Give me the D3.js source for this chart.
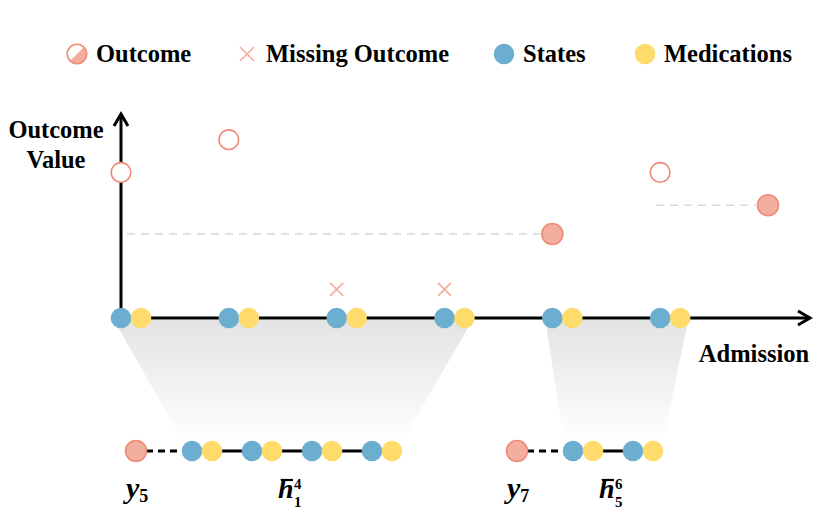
<!DOCTYPE html>
<html>
<head>
<meta charset="utf-8">
<script src="https://cdn.jsdelivr.net/npm/d3@7"></script>
<style>
  body { margin: 0; background: #fff; }
</style>
</head>
<body>
<svg id="chart"></svg>
<script>
const width = 830;
const height = 520;
const serif = '"Liberation Serif"';

// data
const admissions = [1, 2, 3, 4, 5, 6, 7];
const outcomeValues = [7.1, 8.7, 1.4, 1.4, 4.1, 7.1, 5.5];
const outcomeKinds = ['open', 'open', 'missing', 'missing', 'filled', 'open', 'filled'];
const hasRecords = [true, true, true, true, true, true, false];
const carryFrom = [1, 6];
const carryTo = [5, 7];
const carryValue = [4.1, 5.5];
const targets = [5, 7];
const histFrom = [1, 5];
const histTo = [4, 6];
const legendLabels = ['Outcome', 'Missing Outcome', 'States', 'Medications'];

// colours
const blue = '#6caecf';
const yellow = '#fedb6a';
const salmon = '#ef8b79';
const salmonFill = '#f4ae9f';
const crossColor = '#f5ae9f';

const svg = d3.select('#chart')
  .attr('width', width)
  .attr('height', height)
  .attr('viewBox', [0, 0, width, height]);

const x = d3.scaleLinear().domain([1, 7]).range([121, 768]);
const y = d3.scaleLinear().domain([0, 10]).range([318, 113]);
const axisY = y(0);
const pairGap = 20;
const rad = 10.3;

// bottom row layout
const bottomY = 451;
const seqStart = [136, 517];
const firstGap = 56;
const pairStep = 60;
const bx = (s, k) => seqStart[s] + firstGap + pairStep * k;

const label = (sel, size) => sel
  .style('font-family', serif)
  .style('font-weight', 'bold')
  .style('font-size', size + 'px')
  .attr('fill', '#000');

const defs = svg.append('defs');
const grad = defs.append('linearGradient')
  .attr('id', 'fade').attr('x1', 0).attr('y1', 0).attr('x2', 0).attr('y2', 1);
grad.append('stop').attr('offset', '0%').attr('stop-color', '#e3e3e3');
grad.append('stop').attr('offset', '100%').attr('stop-color', '#ffffff');

// shaded funnels
svg.append('g').selectAll('polygon')
  .data(targets)
  .join('polygon')
  .attr('points', (d, i) => {
    const n = histTo[i] - histFrom[i];
    return [
      [x(histFrom[i]) - 7, axisY + 2],
      [x(histTo[i]) + pairGap + 8, axisY + 2],
      [bx(i, n) + pairGap + 10, bottomY - 9],
      [bx(i, 0) - 9, bottomY - 9]
    ].join(' ');
  })
  .attr('fill', 'url(#fade)');

// carried outcome dashed lines
svg.append('g').selectAll('line')
  .data(carryValue)
  .join('line')
  .attr('x1', (d, i) => carryFrom[i] === 1 ? x(1) + 6 : x(carryFrom[i]) - 4)
  .attr('x2', (d, i) => x(carryTo[i]) - 12)
  .attr('y1', d => y(d))
  .attr('y2', d => y(d))
  .attr('stroke', '#d9d9d9')
  .attr('stroke-width', 1.6)
  .attr('stroke-dasharray', '8,6');

// axes
svg.append('line')
  .attr('x1', x(1)).attr('x2', 810)
  .attr('y1', axisY).attr('y2', axisY)
  .attr('stroke', '#000').attr('stroke-width', 3);
svg.append('path')
  .attr('d', `M798,${axisY - 7} L810,${axisY} L798,${axisY + 7}`)
  .attr('fill', 'none').attr('stroke', '#000').attr('stroke-width', 3);
svg.append('line')
  .attr('x1', x(1)).attr('x2', x(1))
  .attr('y1', axisY).attr('y2', 114)
  .attr('stroke', '#000').attr('stroke-width', 3);
svg.append('path')
  .attr('d', `M${x(1) - 7},126 L${x(1)},114 L${x(1) + 7},126`)
  .attr('fill', 'none').attr('stroke', '#000').attr('stroke-width', 3);

// axis titles
const yTitle = svg.append('text')
  .attr('x', 56).attr('y', 138)
  .attr('text-anchor', 'middle')
  .call(label, 24.5);
yTitle.append('tspan').attr('x', 56).text('Outcome');
yTitle.append('tspan').attr('x', 56).attr('dy', 30).text('Value');

svg.append('text')
  .attr('x', 754).attr('y', 362)
  .attr('text-anchor', 'middle')
  .call(label, 24.5)
  .text('Admission');

// states + medications on the admission axis
const recGroup = svg.append('g');
recGroup.selectAll('circle.state')
  .data(admissions.filter((d, i) => hasRecords[i]))
  .join('circle')
  .attr('class', 'state')
  .attr('cx', d => x(d)).attr('cy', axisY).attr('r', rad)
  .attr('fill', blue);
recGroup.selectAll('circle.med')
  .data(admissions.filter((d, i) => hasRecords[i]))
  .join('circle')
  .attr('class', 'med')
  .attr('cx', d => x(d) + pairGap).attr('cy', axisY).attr('r', rad)
  .attr('fill', yellow);

// outcomes
const outGroup = svg.append('g');
outGroup.selectAll('circle')
  .data(admissions.filter((d, i) => outcomeKinds[i] !== 'missing'))
  .join('circle')
  .attr('cx', d => x(d))
  .attr('cy', d => y(outcomeValues[d - 1]))
  .attr('r', d => outcomeKinds[d - 1] === 'filled' ? 10.5 : 9.8)
  .attr('fill', d => outcomeKinds[d - 1] === 'filled' ? salmonFill : '#fff')
  .attr('stroke', salmon)
  .attr('stroke-width', 1.6);

outGroup.selectAll('path')
  .data(admissions.filter((d, i) => outcomeKinds[i] === 'missing'))
  .join('path')
  .attr('d', d => {
    const cx = x(d), cy = y(outcomeValues[d - 1]), s = 6.5;
    return `M${cx - s},${cy - s}L${cx + s},${cy + s}M${cx - s},${cy + s}L${cx + s},${cy - s}`;
  })
  .attr('stroke', crossColor)
  .attr('stroke-width', 1.7);

// bottom history sequences
targets.forEach((t, s) => {
  const n = histTo[s] - histFrom[s] + 1;
  const ks = d3.range(n);
  const g = svg.append('g');
  // dashed link from target to history
  g.append('line')
    .attr('x1', seqStart[s] + 10).attr('x2', bx(s, 0) - 8)
    .attr('y1', bottomY).attr('y2', bottomY)
    .attr('stroke', '#000').attr('stroke-width', 3)
    .attr('stroke-dasharray', '7,5');
  g.append('line')
    .attr('x1', bx(s, 0)).attr('x2', bx(s, n - 1))
    .attr('y1', bottomY).attr('y2', bottomY)
    .attr('stroke', '#000').attr('stroke-width', 3);
  g.append('circle')
    .attr('cx', seqStart[s]).attr('cy', bottomY).attr('r', 10.5)
    .attr('fill', salmonFill).attr('stroke', salmon).attr('stroke-width', 1.6);
  g.selectAll('circle.state').data(ks).join('circle')
    .attr('class', 'state')
    .attr('cx', k => bx(s, k)).attr('cy', bottomY).attr('r', rad).attr('fill', blue);
  g.selectAll('circle.med').data(ks).join('circle')
    .attr('class', 'med')
    .attr('cx', k => bx(s, k) + pairGap).attr('cy', bottomY).attr('r', rad).attr('fill', yellow);

  // y_t label
  const yl = g.append('text')
    .attr('x', seqStart[s] - 10).attr('y', 498)
    .call(label, 30);
  yl.append('tspan').style('font-style', 'italic').text('y');
  yl.append('tspan').attr('dy', 4).style('font-size', '18px').text(t);

  // h bar label
  const hx = (bx(s, 0) + bx(s, n - 1) + pairGap) / 2 - 14;
  g.append('text')
    .attr('x', hx).attr('y', 498)
    .call(label, 28)
    .style('font-style', 'italic')
    .text('h');
  g.append('line')
    .attr('x1', hx + 3).attr('x2', hx + 15)
    .attr('y1', 480).attr('y2', 480)
    .attr('stroke', '#000').attr('stroke-width', 2.2);
  g.append('text')
    .attr('x', hx + 16).attr('y', 489)
    .call(label, 15)
    .text(histTo[s]);
  g.append('text')
    .attr('x', hx + 16).attr('y', 507)
    .call(label, 15)
    .text(histFrom[s]);
});

// legend
const legendX = [77, 247, 504, 645];
const legendY = 54;
const legend = svg.append('g');

const lo = legend.append('g');
lo.append('circle')
  .attr('cx', legendX[0]).attr('cy', legendY).attr('r', 9.8)
  .attr('fill', '#fff');
const dd = 9.8 * Math.SQRT1_2;
lo.append('path')
  .attr('d', `M${legendX[0] + dd},${legendY - dd} A9.8,9.8 0 0 1 ${legendX[0] - dd},${legendY + dd} Z`)
  .attr('fill', salmonFill);
lo.append('circle')
  .attr('cx', legendX[0]).attr('cy', legendY).attr('r', 9.8)
  .attr('fill', 'none').attr('stroke', salmon).attr('stroke-width', 1.6);

legend.append('path')
  .attr('d', `M${legendX[1] - 7},${legendY - 7}L${legendX[1] + 7},${legendY + 7}M${legendX[1] - 7},${legendY + 7}L${legendX[1] + 7},${legendY - 7}`)
  .attr('stroke', crossColor).attr('stroke-width', 1.7);

legend.append('circle')
  .attr('cx', legendX[2]).attr('cy', legendY).attr('r', 10.3).attr('fill', blue);
legend.append('circle')
  .attr('cx', legendX[3]).attr('cy', legendY).attr('r', 10.3).attr('fill', yellow);

legend.selectAll('text')
  .data(legendLabels)
  .join('text')
  .attr('x', (d, i) => legendX[i] + 19)
  .attr('y', legendY + 8)
  .call(label, 24.5)
  .text(d => d);
</script>
</body>
</html>
